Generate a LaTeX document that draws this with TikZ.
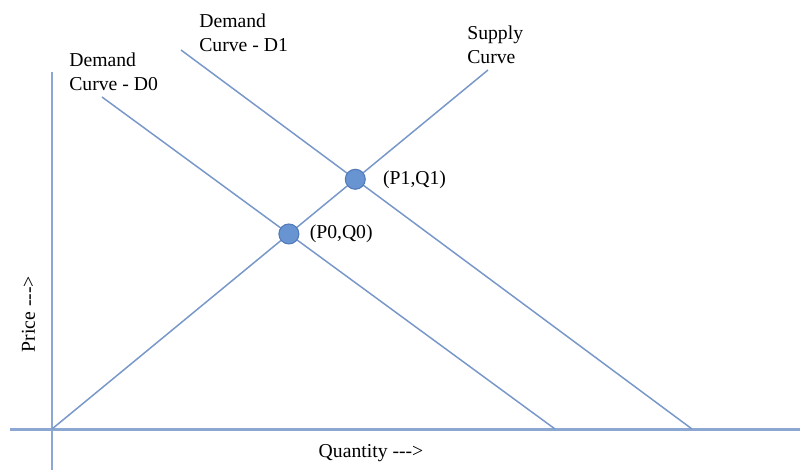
\documentclass[tikz,border=0pt]{standalone}
\usepackage{fontspec}
\setmainfont{Liberation Serif}
\usetikzlibrary{positioning}
\usetikzlibrary{intersections}

\definecolor{curveblue}{RGB}{120,152,201}
\definecolor{axisblue}{RGB}{140,168,210}
\definecolor{dotfill}{RGB}{104,148,210}
\definecolor{dotline}{RGB}{82,122,184}

% plain hyphens, no dash ligature
\newcommand{\arrowdash}{-\kern0pt-\kern0pt->}

\tikzset{
  curve/.style={draw=curveblue, line width=0.85pt},
  axisline/.style={draw=axisblue, line width=1.7pt},
  dot/.style={circle, fill=dotfill, draw=dotline, line width=0.6pt, minimum size=0.4cm, inner sep=0pt},
  lbl/.style={font=\fontsize{11.2}{13.7}\selectfont, inner sep=0pt, align=left}
}

\begin{document}
\begin{tikzpicture}
            \useasboundingbox (0,0) rectangle (16,9.4);

            % Axes
            \coordinate (ytop) at (1.04,7.96);
            \coordinate (ybot) at (1.04,0);
            \coordinate (xleft) at (0.2,0.82);
            \coordinate (xright) at (16,0.82);
            \draw[axisline] (ybot) -- (ytop);
            \draw[axisline] (xleft) -- (xright);

            % Supply curve
            \coordinate (origin) at (1.04,0.82);
            \coordinate (stop) at (9.76,8.0);
            \draw[curve, name path=supply] (origin) -- (stop);

            % Demand curves
            \coordinate (dzerotop) at (2.04,7.46);
            \coordinate (dzerobot) at (11.1,0.82);
            \draw[curve, name path=dzero] (dzerotop) -- (dzerobot);
            \coordinate (donetop) at (3.62,8.4);
            \coordinate (donebot) at (13.84,0.82);
            \draw[curve, name path=done] (donetop) -- (donebot);

            % Equilibrium points
            \path[name intersections={of=supply and dzero, by=eqzero}];
            \path[name intersections={of=supply and done, by=eqone}];
            \node[dot] (P0) at (eqzero) {};
            \node[dot] (P1) at (eqone) {};
            \node[lbl, right=0.2cm of P0] (P0lbl) {(P0,Q0)};
            \node[lbl, right=0.34cm of P1] (P1lbl) {(P1,Q1)};

            % Curve labels
            \node[lbl, anchor=north west] (dzerolbl) at (1.38,8.36) {Demand\\Curve - D0};
            \node[lbl, anchor=north west] (donelbl) at (3.98,9.14) {Demand\\Curve - D1};
            \node[lbl, anchor=north west] (supplylbl) at (9.34,8.9) {Supply\\Curve};

            % Axis labels
            \node[lbl, anchor=base] (qlbl) at (7.42,0.26) {Quantity \arrowdash};
            \node[lbl, anchor=base, rotate=90] (plbl) at (0.7,3.12) {Price \arrowdash};

        \end{tikzpicture}
\end{document}
